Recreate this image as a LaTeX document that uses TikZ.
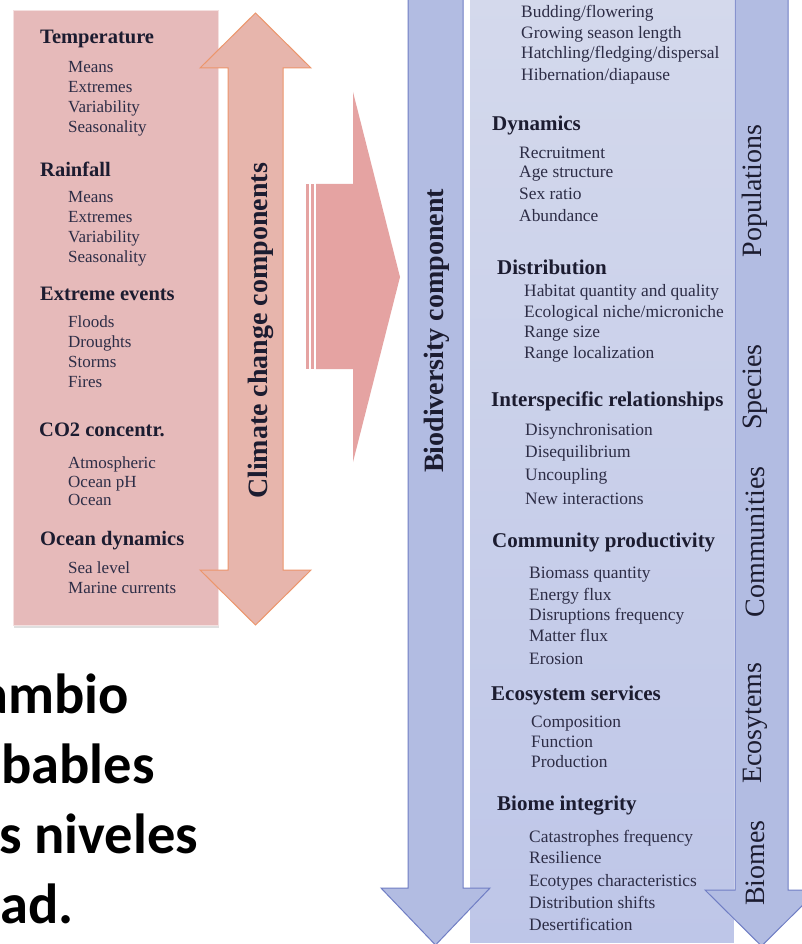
\documentclass[tikz,border=0pt]{standalone}
\usepackage{fontspec}
\setmainfont{Liberation Serif}
\newfontfamily\slidefont{Carlito}
\usetikzlibrary{shadows}

\definecolor{panelpink}{RGB}{230,186,186}
\definecolor{arrowpink}{RGB}{231,181,172}
\definecolor{arroworange}{RGB}{236,150,108}
\definecolor{bigpink}{RGB}{229,163,162}
\definecolor{bluefill}{RGB}{178,188,226}
\definecolor{blueedge}{RGB}{112,126,196}
\definecolor{boxtop}{RGB}{212,217,236}
\definecolor{boxbottom}{RGB}{190,198,232}
\definecolor{inktext}{RGB}{28,28,48}
\definecolor{itemtext}{RGB}{45,45,70}

\begin{document}
\begin{tikzpicture}[x=1pt,y=-1pt,
  lefthead/.style={anchor=base west, inner sep=0pt, text=inktext,
    font=\bfseries\fontsize{20.5}{24}\selectfont},
  leftitem/.style={anchor=base west, inner sep=0pt, text=itemtext,
    font=\fontsize{17}{20}\selectfont},
  midhead/.style={anchor=base west, inner sep=0pt, text=inktext,
    font=\bfseries\fontsize{21}{24}\selectfont},
  miditem/.style={anchor=base west, inner sep=0pt, text=itemtext,
    font=\fontsize{17.4}{20}\selectfont},
  axistitle/.style={rotate=90, inner sep=0pt, text=inktext,
    font=\bfseries\fontsize{28}{32}\selectfont},
  levellabel/.style={rotate=90, inner sep=0pt, text=inktext,
    font=\fontsize{28}{32}\selectfont},
  slidetext/.style={anchor=base west, inner sep=0pt, text=black,
    font=\slidefont\bfseries\fontsize{56.5}{70}\selectfont},
  bluearrow/.style={fill=bluefill, draw=blueedge, line width=1pt, line join=miter}
]
\useasboundingbox (0,0) rectangle (802,944);
\clip (0,0) rectangle (802,944);
\fill[white] (0,0) rectangle (802,944);

% ---------- climate change panel ----------
\node[anchor=north west, minimum width=205pt, minimum height=615pt, inner sep=0pt,
      fill=panelpink, draw=white!55!panelpink, line width=1.2pt,
      drop shadow={opacity=0.25, shadow xshift=0pt, shadow yshift=-2.5pt}]
  (climbox) at (13,10) {};

\node[lefthead] (temp) at (40,44) {Temperature};
\node[leftitem] (tmeans) at (68,72.5) {Means};
\node[leftitem] (textr) at (68,92.5) {Extremes};
\node[leftitem] (tvar) at (68,112.5) {Variability};
\node[leftitem] (tseas) at (68,132.5) {Seasonality};

\node[lefthead] (rain) at (40,177) {Rainfall};
\node[leftitem] (rmeans) at (68,202.5) {Means};
\node[leftitem] (rextr) at (68,222.5) {Extremes};
\node[leftitem] (rvar) at (68,242.5) {Variability};
\node[leftitem] (rseas) at (68,262.5) {Seasonality};

\node[lefthead] (events) at (40,300) {Extreme events};
\node[leftitem] (floods) at (68,327.5) {Floods};
\node[leftitem] (droughts) at (68,347.5) {Droughts};
\node[leftitem] (storms) at (68,367.5) {Storms};
\node[leftitem] (fires) at (68,387.5) {Fires};

\node[lefthead] (co2) at (39,436) {CO2 concentr.};
\node[leftitem] (atmo) at (68,468.5) {Atmospheric};
\node[leftitem] (ph) at (68,487.5) {Ocean pH};
\node[leftitem] (ocean) at (68,505.5) {Ocean};

\node[lefthead] (odyn) at (40,545) {Ocean dynamics};
\node[leftitem] (sea) at (68,573.5) {Sea level};
\node[leftitem] (currents) at (68,593.5) {Marine currents};

% ---------- double arrow: climate change components ----------
\draw[fill=arrowpink, draw=arroworange, line width=1pt, line join=miter]
  (255.5,13) -- (311,68) -- (283,68) -- (283,570) -- (311,570) -- (255.5,625)
  -- (200,570) -- (228,570) -- (228,68) -- (200,68) -- cycle;
\node[axistitle] (climtitle) at (261,331) {Climate change components};

% ---------- striped arrow pointing to biodiversity ----------
\fill[bigpink] (306,184) rectangle (308.5,369);
\fill[bigpink] (310.5,184) rectangle (314,369);
\fill[bigpink] (316,184) -- (353,184) -- (353,92) -- (400,277) -- (353,462)
  -- (353,369) -- (316,369) -- cycle;

% ---------- biodiversity panel ----------
\node[anchor=north west, minimum width=266pt, minimum height=950pt, inner sep=0pt,
      top color=boxtop, bottom color=boxbottom, draw=white, line width=1.5pt]
  (biobox) at (468,-7) {};

\draw[bluearrow] (408,-5) -- (463,-5) -- (463,888) -- (490,888) -- (435.5,945)
  -- (381,888) -- (408,888) -- cycle;
\draw[bluearrow] (735,-5) -- (788,-5) -- (788,890) -- (818,890) -- (761.5,946)
  -- (705,890) -- (735,890) -- cycle;

\node[axistitle] (biotitle) at (437,331) {Biodiversity component};

\node[levellabel] (pop) at (755,191) {Populations};
\node[levellabel] (spec) at (755,387) {Species};
\node[levellabel] (comm) at (755,542) {Communities};
\node[levellabel] (eco) at (755,723) {Ecosytems};
\node[levellabel] (biomes) at (755,863) {Biomes};

\node[miditem] (bud) at (521,17.7) {Budding/flowering};
\node[miditem] (grow) at (521,38.7) {Growing season length};
\node[miditem] (hatch) at (521,58.7) {Hatchling/fledging/dispersal};
\node[miditem] (hiber) at (521,80.7) {Hibernation/diapause};

\node[midhead] (dyn) at (492,131) {Dynamics};
\node[miditem] (recr) at (519,158.7) {Recruitment};
\node[miditem] (age) at (519,177.7) {Age structure};
\node[miditem] (sex) at (519,199.7) {Sex ratio};
\node[miditem] (abund) at (519,221.7) {Abundance};

\node[midhead] (distr) at (497,274) {Distribution};
\node[miditem] (habitat) at (524,296.7) {Habitat quantity and quality};
\node[miditem] (niche) at (524,317.7) {Ecological niche/microniche};
\node[miditem] (rsize) at (524,337.7) {Range size};
\node[miditem] (rloc) at (524,358.7) {Range localization};

\node[midhead] (inter) at (491,406) {Interspecific relationships};
\node[miditem] (disyn) at (525,435.7) {Disynchronisation};
\node[miditem] (diseq) at (525,457.7) {Disequilibrium};
\node[miditem] (uncoup) at (525,480.7) {Uncoupling};
\node[miditem] (newint) at (525,504.7) {New interactions};

\node[midhead] (commprod) at (492,547) {Community productivity};
\node[miditem] (biomass) at (529,578.7) {Biomass quantity};
\node[miditem] (energy) at (529,600.7) {Energy flux};
\node[miditem] (disrupt) at (529,620.7) {Disruptions frequency};
\node[miditem] (matter) at (529,641.7) {Matter flux};
\node[miditem] (erosion) at (529,664.7) {Erosion};

\node[midhead] (services) at (491,700) {Ecosystem services};
\node[miditem] (compo) at (531,727.7) {Composition};
\node[miditem] (func) at (531,747.7) {Function};
\node[miditem] (prod) at (531,767.7) {Production};

\node[midhead] (integrity) at (497,810) {Biome integrity};
\node[miditem] (catas) at (529,842.7) {Catastrophes frequency};
\node[miditem] (resil) at (529,863.7) {Resilience};
\node[miditem] (ecotypes) at (529,886.7) {Ecotypes characteristics};
\node[miditem] (shifts) at (529,908.7) {Distribution shifts};
\node[miditem] (desert) at (529,930.7) {Desertification};

% ---------- slide caption ----------
\node[slidetext] (cap1) at (-20,713) {ambio};
\node[slidetext] (cap2) at (1,783) {bables};
\node[slidetext] (cap3) at (-1,853) {s niveles};
\node[slidetext] (cap4) at (0,923) {ad.};
\end{tikzpicture}
\end{document}
